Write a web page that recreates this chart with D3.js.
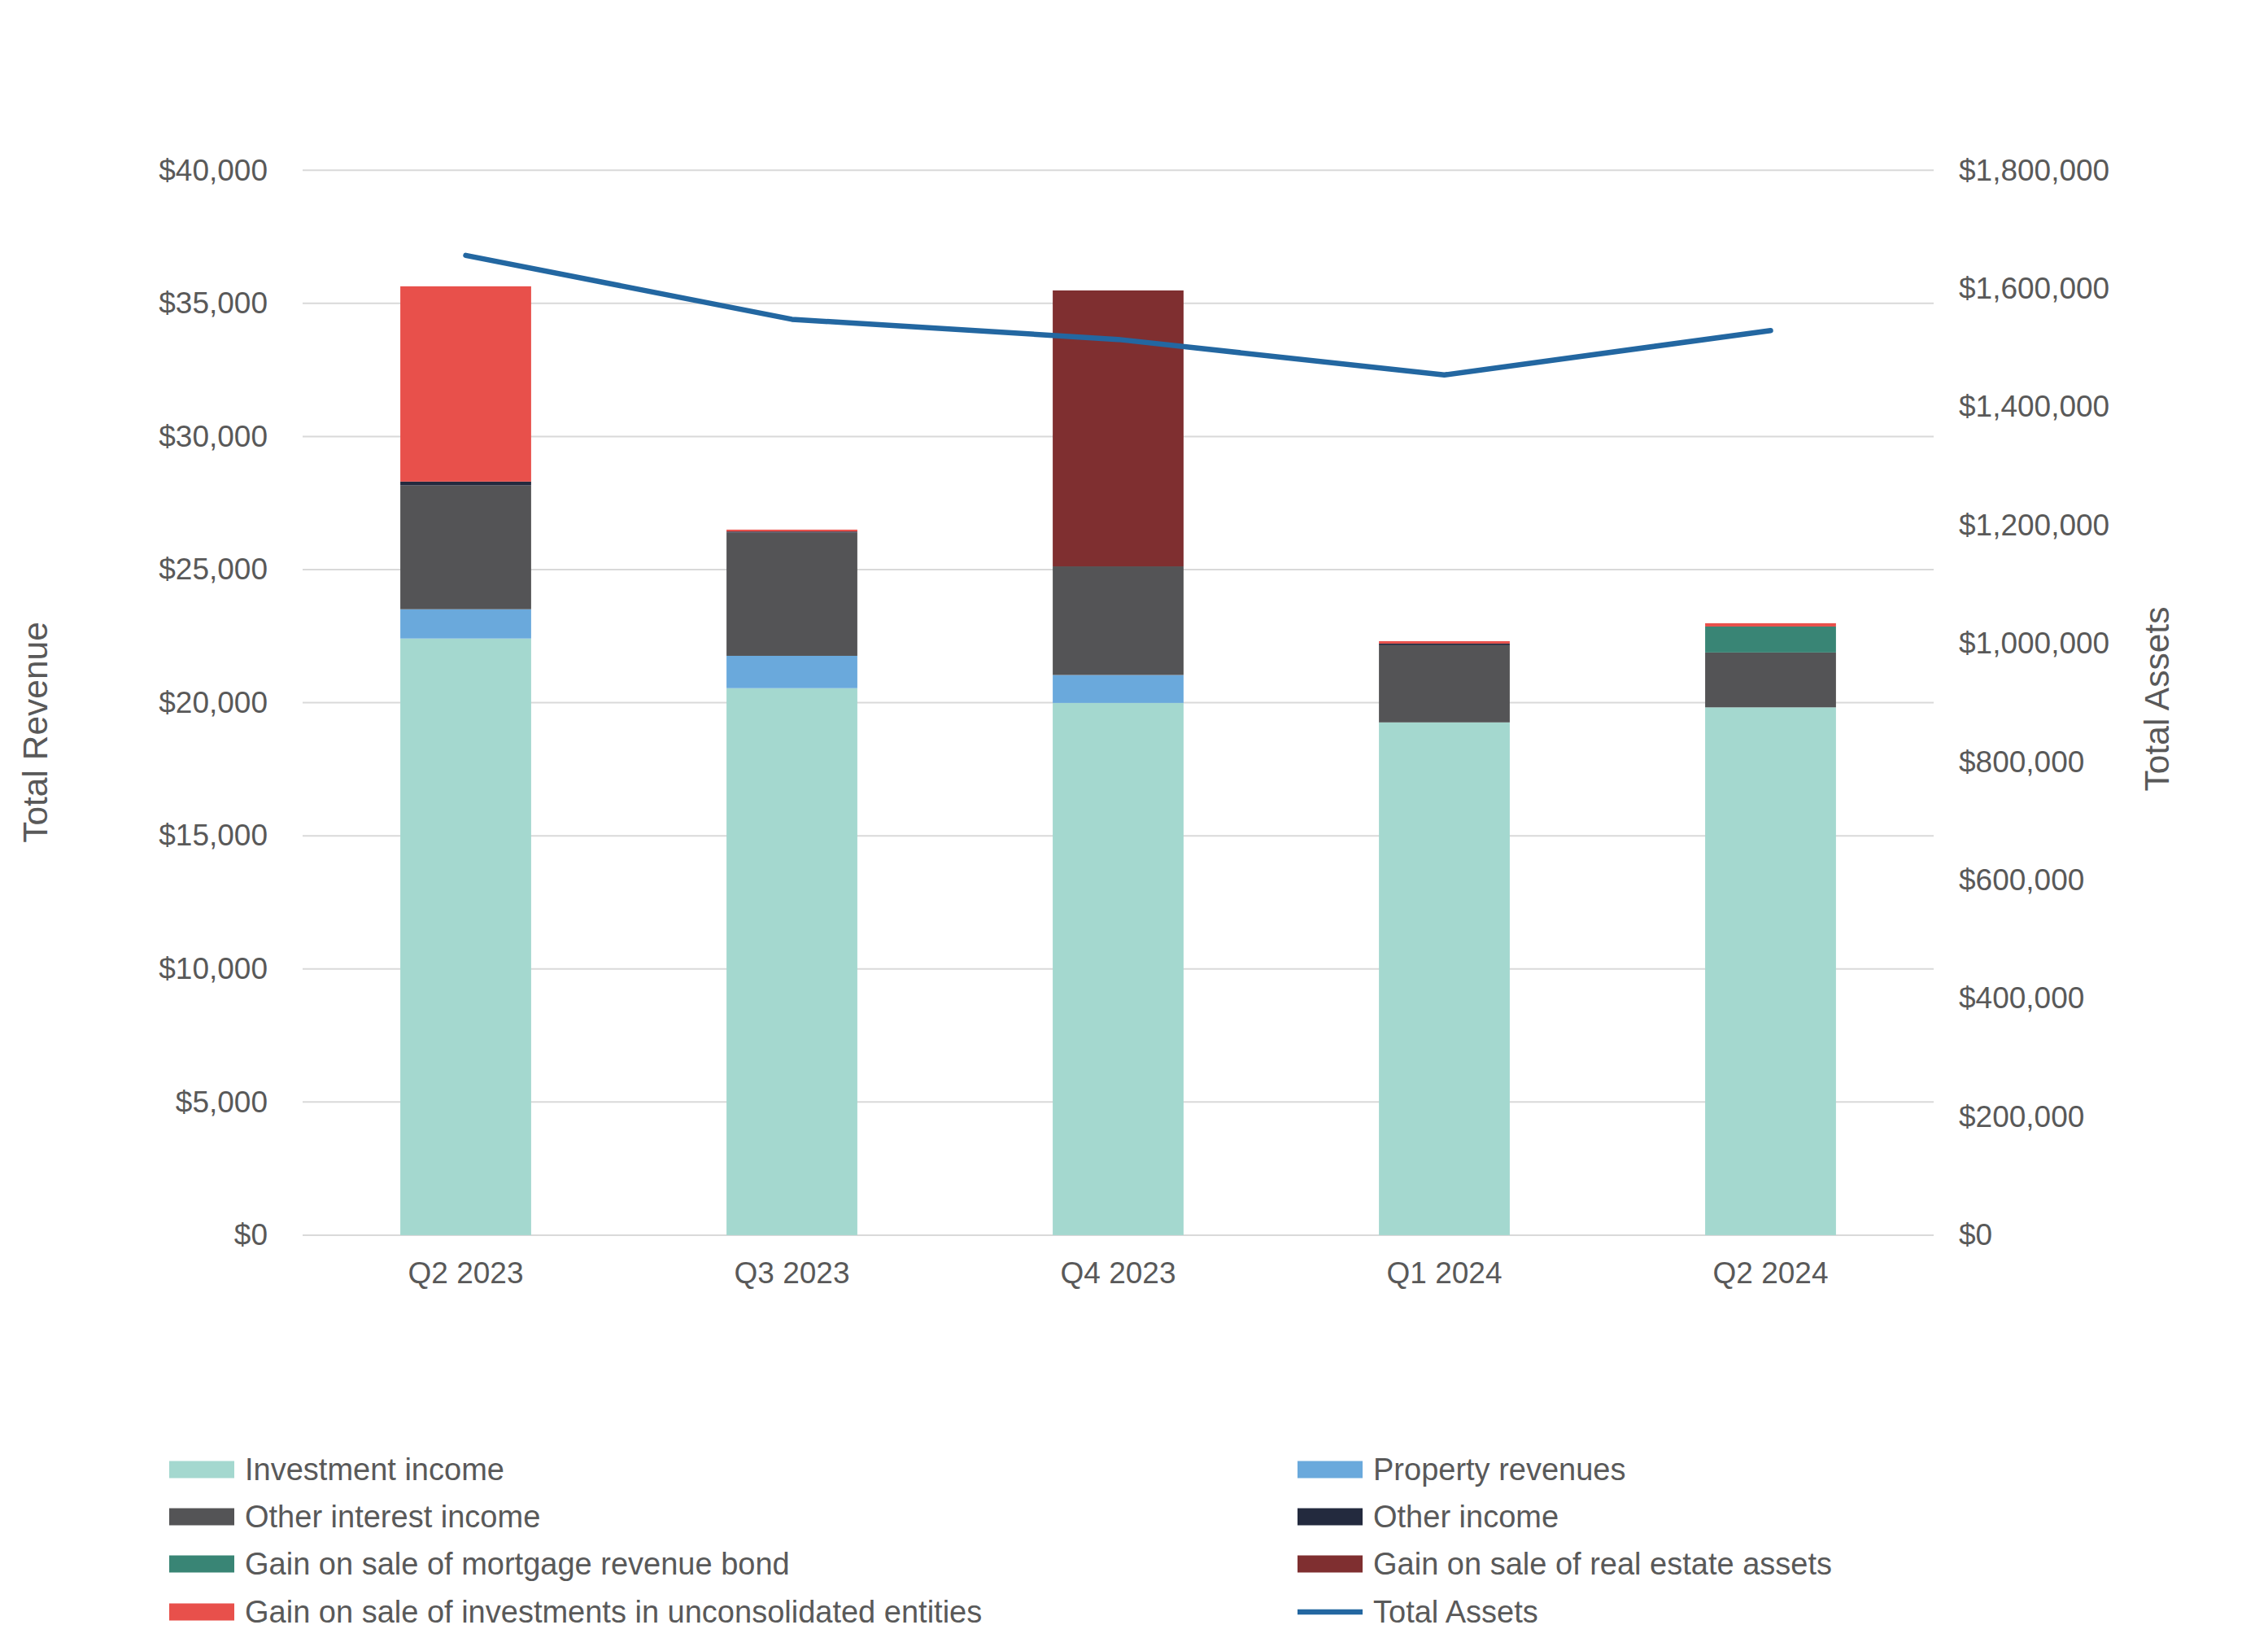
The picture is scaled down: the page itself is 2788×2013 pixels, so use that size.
<!DOCTYPE html>
<html>
<head>
<meta charset="utf-8">
<script src="https://cdn.jsdelivr.net/npm/d3@7"></script>
<style>
  html, body { margin: 0; padding: 0; background: #ffffff; }
  svg { display: block; }
  text { font-family: "Liberation Sans", Arial, sans-serif; fill: #595959; }
</style>
</head>
<body>
<script>
// ---- Data ----
const categories = ["Q2 2023", "Q3 2023", "Q4 2023", "Q1 2024", "Q2 2024"];
const investmentIncome   = [22410, 20545, 19990, 19260, 19825];
const propertyRevenues   = [1100, 1215, 1050, 0, 0];
const otherInterestIncome = [4650, 4630, 4080, 2900, 2060];
const otherIncome        = [145, 40, 0, 60, 0];
const gainMortgageBond   = [0, 0, 0, 0, 975];
const gainRealEstate     = [0, 0, 10365, 0, 0];
const gainUnconsolidated = [7335, 70, 0, 90, 125];
const totalAssets        = [1656000, 1548000, 1514000, 1454000, 1529000];

const leftTicks  = [0, 5000, 10000, 15000, 20000, 25000, 30000, 35000, 40000];
const rightTicks = [0, 200000, 400000, 600000, 800000, 1000000, 1200000, 1400000, 1600000, 1800000];

const seriesNames = [
  "Investment income", "Property revenues", "Other interest income", "Other income",
  "Gain on sale of mortgage revenue bond", "Gain on sale of real estate assets",
  "Gain on sale of investments in unconsolidated entities"
];
const seriesValues = [investmentIncome, propertyRevenues, otherInterestIncome, otherIncome,
  gainMortgageBond, gainRealEstate, gainUnconsolidated];
const seriesColors = ["#a4d8cf", "#6aa9dc", "#545456", "#232a3e", "#398575", "#7f2f30", "#e8504b"];
const lineName = "Total Assets";
const lineColor = "#2367a1";

// ---- Layout ----
const W = 2788, H = 2013;
const plot = { left: 372, right: 2377, top: 209.2, bottom: 1517.9 };

const svg = d3.select("body").append("svg").attr("width", W).attr("height", H);

const x = d3.scaleBand().domain(categories).range([plot.left, plot.right]).padding(0);
const yL = d3.scaleLinear().domain([0, 40000]).range([plot.bottom, plot.top]);
const yR = d3.scaleLinear().domain([0, 1800000]).range([plot.bottom, plot.top]);

// gridlines
svg.append("g").selectAll("line").data(leftTicks).join("line")
  .attr("x1", plot.left).attr("x2", plot.right)
  .attr("y1", d => yL(d)).attr("y2", d => yL(d))
  .attr("stroke", "#d9d9d9").attr("stroke-width", 2);

// left axis
const fmt = d3.format("$,");
const leftAxis = svg.append("g").attr("transform", `translate(${plot.left},0)`)
  .call(d3.axisLeft(yL).tickValues(leftTicks).tickFormat(fmt).tickSize(0).tickPadding(43));
leftAxis.select(".domain").remove();
leftAxis.selectAll("text").attr("font-size", 37).attr("fill", "#595959")
  .attr("font-family", "Liberation Sans, Arial, sans-serif");

// right axis
const rightAxis = svg.append("g").attr("transform", `translate(${plot.right},0)`)
  .call(d3.axisRight(yR).tickValues(rightTicks).tickFormat(fmt).tickSize(0).tickPadding(31));
rightAxis.select(".domain").remove();
rightAxis.selectAll("text").attr("font-size", 37).attr("fill", "#595959")
  .attr("font-family", "Liberation Sans, Arial, sans-serif");

// bottom axis
const bottomAxis = svg.append("g").attr("transform", `translate(0,${plot.bottom})`)
  .call(d3.axisBottom(x).tickSize(0).tickPadding(33));
bottomAxis.select(".domain").remove();
bottomAxis.selectAll("text").attr("font-size", 37).attr("fill", "#595959")
  .attr("font-family", "Liberation Sans, Arial, sans-serif");

// stacked bars
const rows = categories.map((c, i) => {
  const r = { cat: c };
  seriesNames.forEach((s, j) => r[s] = seriesValues[j][i]);
  return r;
});
const stack = d3.stack().keys(seriesNames)(rows);
const barW = x.bandwidth() * 0.401;
svg.append("g").selectAll("g").data(stack).join("g")
  .attr("fill", (d, i) => seriesColors[i])
  .selectAll("rect").data(d => d).join("rect")
  .attr("x", d => x(d.data.cat) + (x.bandwidth() - barW) / 2)
  .attr("width", barW)
  .attr("y", d => yL(d[1]))
  .attr("height", d => Math.max(0, yL(d[0]) - yL(d[1])));

// line
const line = d3.line().x((d, i) => x(categories[i]) + x.bandwidth() / 2).y(d => yR(d));
svg.append("path").datum(totalAssets)
  .attr("d", line).attr("fill", "none").attr("stroke", lineColor)
  .attr("stroke-width", 6.5).attr("stroke-linecap", "round").attr("stroke-linejoin", "round");

// axis titles
svg.append("text").attr("transform", "translate(43,900) rotate(-90)")
  .attr("text-anchor", "middle").attr("dominant-baseline", "central")
  .attr("font-size", 42.5).text("Total Revenue");
svg.append("text").attr("transform", "translate(2651,859) rotate(-90)")
  .attr("text-anchor", "middle").attr("dominant-baseline", "central")
  .attr("font-size", 42.5).text("Total Assets");

// legend
const legendItems = seriesNames.map((n, i) => ({ name: n, color: seriesColors[i], type: "rect" }))
  .concat([{ name: lineName, color: lineColor, type: "line" }]);
const colX = [208, 1595];
const rowY = [1806, 1864, 1922, 1981];
const lg = svg.append("g");
legendItems.forEach((d, i) => {
  const cx = colX[i % 2], cy = rowY[Math.floor(i / 2)];
  if (d.type === "rect") {
    lg.append("rect").attr("x", cx).attr("y", cy - 10.5).attr("width", 80).attr("height", 21).attr("fill", d.color);
  } else {
    lg.append("line").attr("x1", cx).attr("x2", cx + 80).attr("y1", cy).attr("y2", cy)
      .attr("stroke", d.color).attr("stroke-width", 6.5);
  }
  lg.append("text").attr("x", cx + 93).attr("y", cy).attr("dominant-baseline", "central")
    .attr("font-size", 38).text(d.name);
});
</script>
</body>
</html>
